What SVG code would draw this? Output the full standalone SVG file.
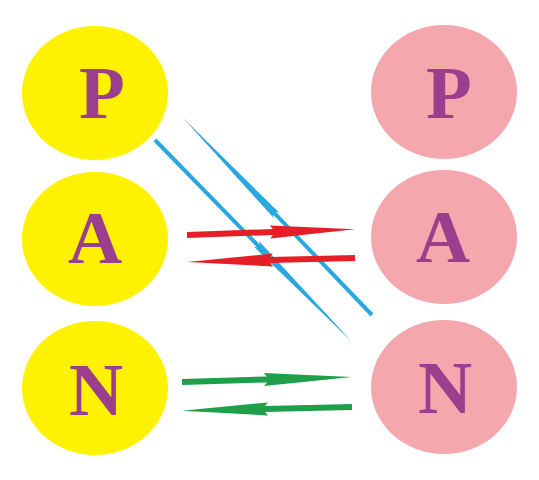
<svg xmlns="http://www.w3.org/2000/svg" width="539" height="480" viewBox="0 0 539 480">
<style>
.l{fill:#fff200}
.r{fill:#f4a8ae}
.t{font-family:"Liberation Serif",serif;font-weight:bold;font-size:75px;fill:#9b3e8e;text-anchor:middle}
</style>
<rect width="539" height="480" fill="#ffffff"/>
<g id="left-P"><ellipse class="l" cx="95" cy="93" rx="73" ry="67"/><text class="t" x="102" y="118">P</text></g>
<g id="left-A"><ellipse class="l" cx="95" cy="239" rx="73" ry="67"/><text class="t" x="95" y="263">A</text></g>
<g id="left-N"><ellipse class="l" cx="95" cy="388" rx="73" ry="67"/><text class="t" x="96" y="415">N</text></g>
<g id="right-P"><ellipse class="r" cx="444" cy="92" rx="73" ry="67"/><text class="t" x="449" y="118">P</text></g>
<g id="right-A"><ellipse class="r" cx="444" cy="237" rx="73" ry="67"/><text class="t" x="443" y="262">A</text></g>
<g id="right-N"><ellipse class="r" cx="444" cy="387" rx="73" ry="67"/><text class="t" x="445" y="413">N</text></g>
<g id="connectors">
<polygon fill="#2aa6e0" transform="translate(155,140) rotate(45.7)" points="0,-2 148,-2 145,-3.8 282,0 145,3.8 148,2 0,2"/>
<polygon fill="#2aa6e0" transform="translate(372,315) rotate(226.2)" points="0,-2 141,-2 138,-3.8 274,0 138,3.8 141,2 0,2"/>
<polygon fill="#e51f27" transform="translate(187,235) rotate(-2)" points="0,-3 86,-3 83,-6.5 168,0 83,6.5 86,3 0,3"/>
<polygon fill="#e51f27" transform="translate(355,258) rotate(178.6)" points="0,-3 85,-3 82,-6.5 168,0 82,6.5 85,3 0,3"/>
<polygon fill="#1f9f4a" transform="translate(182,382) rotate(-1.7)" points="0,-3 85,-3 82,-6.5 170,0 82,6.5 85,3 0,3"/>
<polygon fill="#1f9f4a" transform="translate(352,407) rotate(178.7)" points="0,-3 87,-3 84,-6.5 170,0 84,6.5 87,3 0,3"/>
</g>
</svg>
